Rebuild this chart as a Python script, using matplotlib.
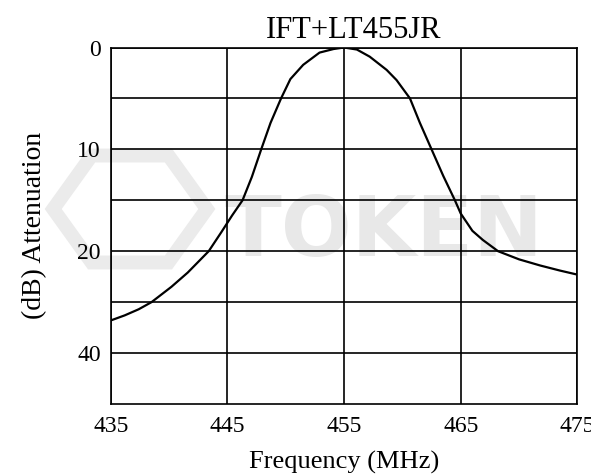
import matplotlib
matplotlib.use("Agg")
import matplotlib.pyplot as plt
import matplotlib.patches as patches

# curve (MHz, dB attenuation)
freq = [435, 436.2, 437.4, 438.5, 440.2, 441.6, 443.4, 444.5, 445.4, 446.3,
        447.1, 447.9, 448.7, 449.6, 450.4, 451.5, 452.9, 454.1, 455, 456.1,
        457.2, 458.65, 459.5, 460.65, 461.5, 462.5, 463.5, 464.5, 465, 466.0,
        466.9, 468.2, 470.0, 471.8, 473.5, 475]
atten = [26.8, 26.3, 25.7, 25, 23.5, 22.1, 20, 18.1, 16.5, 15,
         12.7, 10, 7.4, 5.0, 3.1, 1.7, 0.5, 0.15, 0, 0.2,
         0.9, 2.2, 3.2, 5, 7.4, 10, 12.6, 15, 16.3, 18.0,
         18.9, 20, 20.8, 21.4, 21.9, 22.3]

x_ticks = [435, 445, 455, 465, 475]
y_ticks = [0, 10, 20, 30]
y_tick_labels = ["0", "10", "20", "40"]
y_grid = [5, 15, 25]

plt.rcParams['font.family'] = ['Liberation Serif', 'DejaVu Serif']

fig = plt.figure(figsize=(5.91, 4.75), dpi=100)
ax = fig.add_axes([0.1873, 0.1495, 0.7897, 0.7505])
ax.patch.set_alpha(0)

# faint watermark logo behind everything
hexagon = patches.RegularPolygon((0.22, 0.56), 6, radius=0.13, orientation=0.5236,
                                 transform=fig.transFigure, fill=False,
                                 edgecolor='#ebebeb', linewidth=10, zorder=-2)
fig.patches.append(hexagon)
fig.text(0.65, 0.51, "TOKEN", ha='center', va='center', fontsize=60,
         fontweight='bold', family='DejaVu Sans', color='#e8e8e8', zorder=-2)

ax.plot(freq, atten, color='black', linewidth=1.6, zorder=3)

ax.set_xlim(435, 475)
ax.set_ylim(35, 0)
ax.set_xticks(x_ticks)
ax.set_yticks(y_ticks)
ax.set_yticklabels(y_tick_labels)
ax.set_yticks(y_grid, minor=True)
ax.tick_params(which='both', length=0)
ax.tick_params(axis='x', labelsize=17, pad=9)
ax.tick_params(axis='y', labelsize=17, pad=7)
ax.grid(True, which='both', color='black', linewidth=1.2)
for s in ax.spines.values():
    s.set_linewidth(1.2)

ax.set_title("IFT+LT455JR", fontsize=22, pad=7, x=0.52)
ax.set_xlabel("Frequency (MHz)", fontsize=19, labelpad=10)
ax.set_ylabel("(dB) Attenuation", fontsize=20, labelpad=22)

fig.savefig("out.png", dpi=100)
